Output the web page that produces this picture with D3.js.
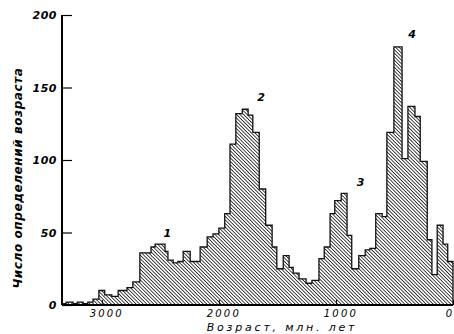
<!DOCTYPE html>
<html>
<head>
<meta charset="utf-8">
<script src="https://cdn.jsdelivr.net/npm/d3@7"></script>
<style>
  html, body { margin: 0; padding: 0; background: #fff; }
  svg { display: block; }
  .tk { font-family: "DejaVu Sans", sans-serif; font-style: italic; }
</style>
</head>
<body>
<svg width="454" height="334"></svg>
<script>
// bin edges, million years (old -> young), and number of age determinations per bin
var binEdges = [3340, 3305, 3245, 3210, 3160, 3120, 3075, 3025, 2975, 2915, 2860,
    2785, 2735, 2675, 2620, 2580, 2545, 2505, 2460, 2435, 2390, 2350, 2305,
    2245, 2205, 2160, 2100, 2050, 2000, 1950, 1905, 1855, 1800, 1750, 1710,
    1655, 1600, 1545, 1505, 1450, 1400, 1365, 1315, 1255, 1205, 1145, 1100,
    1050, 1010, 955, 905, 865, 805, 750, 710, 660, 605, 565, 505, 435, 385,
    325, 280, 220, 180, 135, 85, 45, 0];
var binCounts = [1, 2, 1, 2, 1, 2, 4, 10, 7, 6, 10, 12, 16, 36, 36, 40, 42, 42,
    37, 31, 29, 30, 37, 30, 30, 40, 47, 49, 53, 63, 111, 132, 135, 131, 119,
    80, 55, 40, 25, 34, 26, 22, 18, 15, 17, 32, 40, 63, 72, 77, 48, 25, 34,
    38, 39, 63, 61, 119, 178, 101, 137, 130, 99, 45, 21, 55, 42, 30];
var xTicks = [3000, 2000, 1000, 0];
var yTicks = [0, 50, 100, 150, 200];
var peakLabels = [
    {text: "1", age: 2440, value: 47},
    {text: "2", age: 1640, value: 141},
    {text: "3", age: 790, value: 82},
    {text: "4", age: 350, value: 184}
];

var svg = d3.select("svg"),
    x = d3.scaleLinear().domain([3340, 0]).range([62, 453]),
    y = d3.scaleLinear().domain([0, 200]).range([305, 15]);

// diagonal hatching, lines running down to the right
var defs = svg.append("defs");
defs.append("pattern")
    .attr("id", "hatch")
    .attr("patternUnits", "userSpaceOnUse")
    .attr("width", 8).attr("height", 2.5)
    .attr("patternTransform", "rotate(45)")
    .append("line")
    .attr("x1", 0).attr("x2", 8)
    .attr("y1", 1.25).attr("y2", 1.25)
    .attr("stroke", "#222")
    .attr("stroke-width", 0.85);

// step outline points
var pts = [[binEdges[0], 0]];
binCounts.forEach(function(c, i) {
    pts.push([binEdges[i], c]);
    pts.push([binEdges[i + 1], c]);
});
pts.push([binEdges[binEdges.length - 1], 0]);

var area = d3.area()
    .x(function(d) { return x(d[0]); })
    .y0(y(0))
    .y1(function(d) { return y(d[1]); });
var line = d3.line()
    .x(function(d) { return x(d[0]); })
    .y(function(d) { return y(d[1]); });

svg.append("path")
    .datum(pts)
    .attr("fill", "url(#hatch)")
    .attr("d", area);
svg.append("path")
    .datum(pts)
    .attr("fill", "none")
    .attr("stroke", "#111")
    .attr("stroke-width", 1.3)
    .attr("d", line);

// y axis
var gy = svg.append("g").attr("transform", "translate(62,0)")
    .call(d3.axisRight(y).tickValues(yTicks).tickSize(10).tickFormat(""));
gy.select(".domain").attr("d", "M0," + y(200) + "V" + y(0)).attr("stroke-width", 2);
gy.selectAll(".tick line").attr("stroke-width", 1.2);
svg.append("g").selectAll("text")
    .data(yTicks)
    .enter().append("text")
    .attr("class", "tk")
    .attr("x", 57)
    .attr("y", function(d) { return y(d) + 4; })
    .attr("text-anchor", "end")
    .attr("font-size", 11)
    .attr("font-weight", "bold")
    .attr("letter-spacing", 0.5)
    .text(function(d) { return d; });

// x axis
var gx = svg.append("g").attr("transform", "translate(0,305)")
    .call(d3.axisTop(x).tickValues(xTicks).tickSize(5).tickFormat(""));
gx.select(".domain").attr("d", "M62,0H453").attr("stroke-width", 2);
svg.append("g").selectAll("text")
    .data(xTicks)
    .enter().append("text")
    .attr("class", "tk")
    .attr("x", function(d) { return d === 0 ? x(d) - 3 : x(d) + 5; })
    .attr("y", 317)
    .attr("text-anchor", "middle")
    .attr("font-size", 10)
    .attr("letter-spacing", 2.2)
    .text(function(d) { return d; });

svg.append("text")
    .attr("class", "tk")
    .attr("x", 282)
    .attr("y", 331)
    .attr("text-anchor", "middle")
    .attr("font-size", 11)
    .attr("letter-spacing", 2.8)
    .text("Возраст, млн. лет");

svg.append("text")
    .attr("class", "tk")
    .attr("transform", "translate(22,178) rotate(-90)")
    .attr("text-anchor", "middle")
    .attr("font-size", 12)
    .attr("font-weight", "bold")
    .attr("letter-spacing", 0.6)
    .text("Число определений возраста");

svg.append("g").selectAll("text")
    .data(peakLabels)
    .enter().append("text")
    .attr("class", "tk")
    .attr("x", function(d) { return x(d.age); })
    .attr("y", function(d) { return y(d.value); })
    .attr("text-anchor", "middle")
    .attr("font-size", 11)
    .attr("font-weight", "bold")
    .text(function(d) { return d.text; });
</script>
</body>
</html>
